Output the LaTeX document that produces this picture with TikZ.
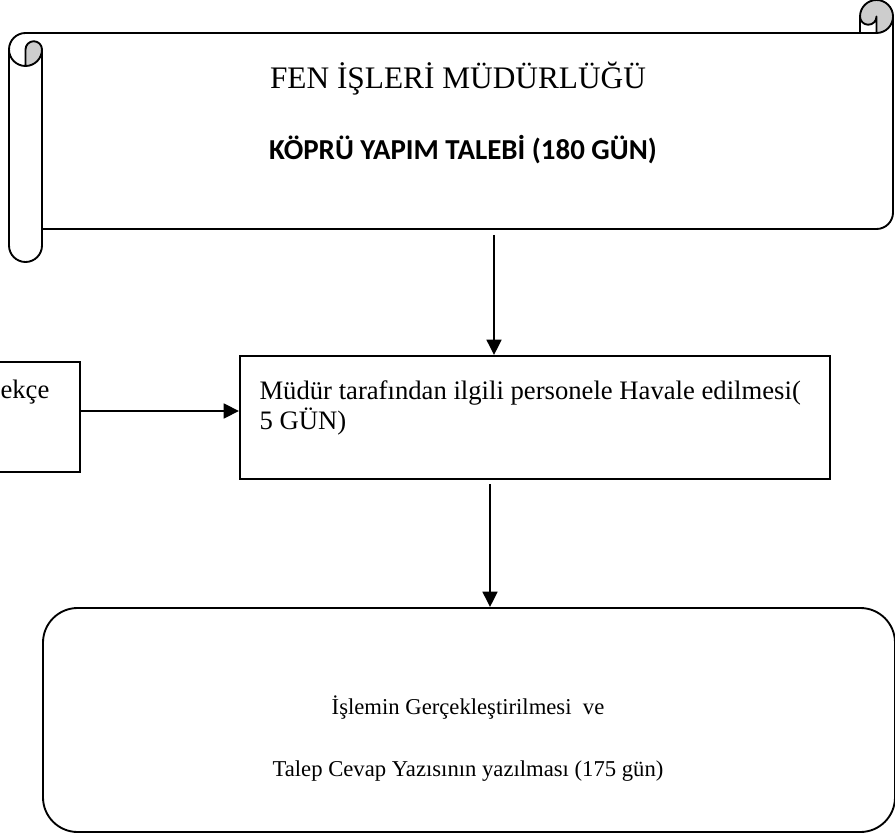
\documentclass[tikz,border=0pt]{standalone}
\usepackage{fontspec}
\setmainfont{Liberation Serif}
\newfontfamily\carlito{Carlito}
\usetikzlibrary{arrows.meta}
\definecolor{rollgray}{RGB}{205,205,205}
\tikzset{every picture/.style={line width=0.75pt}}
\tikzset{
	box/.style={draw, line width=1.4pt, inner sep=0pt},
	arr/.style={line width=1.7pt, -{Triangle[length=11.5pt,width=11pt]}},
	roll/.style={line width=1.4pt, line join=round}
}

\begin{document}
\begin{tikzpicture}[x=0.75pt,y=0.75pt,yscale=-1,xscale=1]
	\useasboundingbox (0,0) rectangle (895,837);

	%Shape: Horizontal Scroll, curls
	\fill [rollgray] (25.5,66) arc[start angle=90, delta angle=-90, radius=16.5] arc[start angle=0, delta angle=-180, radius=8.25] -- cycle ;
	\fill [rollgray] (876.5,33) arc[start angle=90, delta angle=-270, radius=16.5] arc[start angle=180, delta angle=-180, radius=8.25] -- cycle ;
	%Shape: Horizontal Scroll, outline
	\draw [roll] (9,49.5) arc[start angle=180, delta angle=90, radius=16.5] -- (860,33) -- (860,16.5) arc[start angle=180, delta angle=180, radius=16.5] -- (893,212.5) arc[start angle=0, delta angle=90, radius=16.5] -- (42,229) -- (42,245.5) arc[start angle=0, delta angle=180, radius=16.5] -- cycle ;
	\draw [roll] (860,33) -- (876.5,33) arc[start angle=90, delta angle=-90, radius=16.5] ;
	\draw [roll] (876.5,33) -- (876.5,16.5) arc[start angle=0, delta angle=180, radius=8.25] ;
	\draw [roll] (25.5,66) -- (25.5,49.5) arc[start angle=180, delta angle=180, radius=8.25] arc[start angle=0, delta angle=180, radius=16.5] ;
	\draw [roll] (42,49.5) -- (42,229) ;

	% Text Node
	\node (mudurluk) at (458,79) {\fontsize{23.5}{28}\selectfont FEN İŞLERİ MÜDÜRLÜĞÜ};
	% Text Node
	\node (talep) at (463,150) {\carlito\bfseries\fontsize{21.7}{26}\selectfont KÖPRÜ YAPIM TALEBİ (180 GÜN)};

	%Shape: Rectangle
	\node [box, minimum width=120pt, minimum height=82.5pt] (dilekce) at (0,417) {};
	\node [anchor=base west, inner sep=0pt, font=\fontsize{20}{23}\selectfont] (dilekcetext) at (0,399) {ekçe};
	%Shape: Rectangle
	\node [box, minimum width=442.5pt, minimum height=92.25pt] (havale) at (535,417.5) {};
	\node [anchor=north west, align=left, inner sep=0pt, font=\fontsize{20}{23}\selectfont] (havaletext) at (259,380) {Müdür tarafından ilgili personele Havale edilmesi(\\5 GÜN)};
	%Shape: Rounded Rectangle
	\node [box, rounded corners=26pt, minimum width=639pt, minimum height=168pt] (islem) at (469,720) {};
	\node [align=center, font=\fontsize{17}{46.5}\selectfont] (islemtext) at (468,739) {İşlemin Gerçekleştirilmesi\ \ ve\\Talep Cevap Yazısının yazılması (175 gün)};

	% Arrows
	\coordinate (a1) at (494,235);
	\draw [arr] (a1) -- (a1 |- havale.north);
	\coordinate (a2) at (490,484);
	\draw [arr] (a2) -- (a2 |- islem.north);
	\draw [arr] ([yshift=-4.5pt]dilekce.east) -- ([yshift=-4.5pt]dilekce.east -| havale.west);

\end{tikzpicture}
\end{document}
